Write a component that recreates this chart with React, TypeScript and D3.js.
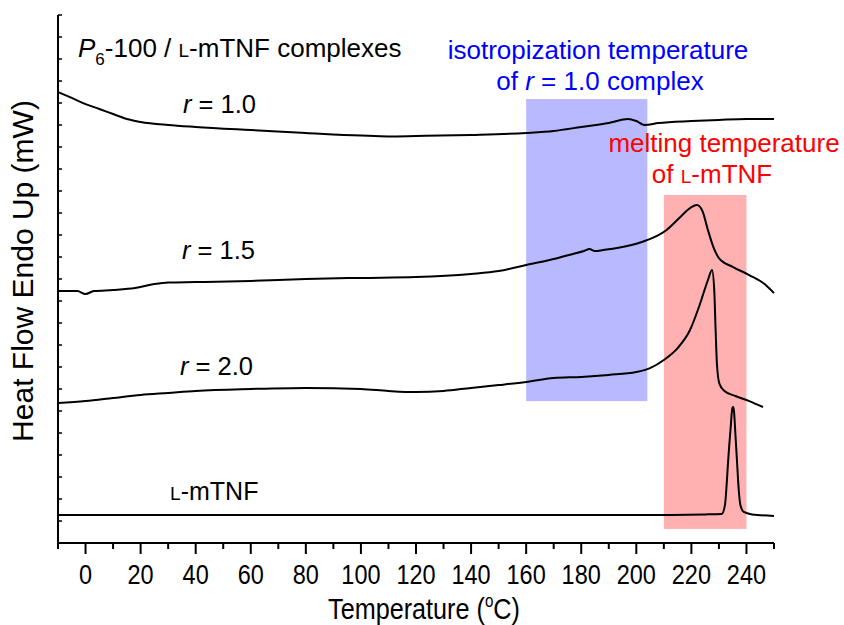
import React from "react";
import * as d3 from "d3";

// DSC heating traces, heat flow in mW (stacked, arbitrary offsets)
const r10Temp = [-10, -5, 0, 5, 10, 15, 20, 30, 40, 60, 80, 100, 110, 120, 140, 160, 170, 180, 190, 197, 200, 203, 208, 220, 230, 240, 250];
const r10Flow = [20.5, 20.23, 19.95, 19.73, 19.5, 19.27, 19.14, 19.0, 18.91, 18.77, 18.64, 18.52, 18.48, 18.5, 18.55, 18.64, 18.73, 18.91, 19.09, 19.27, 19.18, 19.0, 19.09, 19.18, 19.23, 19.27, 19.27];

const r15Temp = [-10, -3, 0, 3, 10, 18, 25, 30, 40, 60, 80, 100, 120, 140, 150, 160, 170, 177, 181, 183, 185, 188, 193, 202, 211, 216, 220, 222, 224, 226, 228, 230, 235, 241, 247, 250];
const r15Flow = [11.45, 11.45, 11.32, 11.45, 11.5, 11.59, 11.77, 11.84, 11.86, 11.91, 12.0, 12.05, 12.09, 12.23, 12.36, 12.64, 12.91, 13.14, 13.27, 13.36, 13.27, 13.32, 13.41, 13.68, 14.23, 14.82, 15.27, 15.36, 15.09, 14.23, 13.45, 12.95, 12.55, 12.18, 11.73, 11.36];

const r20Temp = [-10, 0, 10, 20, 30, 40, 60, 80, 100, 110, 120, 130, 140, 150, 160, 170, 180, 190, 200, 205, 210, 215, 219.5, 223, 226, 227.5, 228.3, 228.8, 229.3, 230.2, 232, 236, 241, 246];
const r20Flow = [6.36, 6.45, 6.59, 6.73, 6.82, 6.91, 7.0, 7.05, 7.0, 6.91, 6.86, 6.91, 7.05, 7.18, 7.32, 7.5, 7.55, 7.64, 7.77, 7.95, 8.32, 8.86, 9.68, 10.82, 11.95, 12.41, 11.5, 9.68, 8.09, 7.23, 6.91, 6.68, 6.45, 6.18];

const lmtnfTemp = [-10, 100, 200, 225, 231, 232.2, 232.8, 233.3, 234.2, 234.9, 235.2, 235.5, 236, 236.6, 237.2, 237.8, 239, 242, 250];
const lmtnfFlow = [1.27, 1.27, 1.27, 1.3, 1.32, 1.73, 2.64, 3.64, 5.14, 6.14, 6.18, 5.95, 4.91, 3.64, 2.41, 1.73, 1.41, 1.3, 1.23];

// Shaded temperature windows: [T start, T end, flow bottom, flow top]
const isoBand = [160, 204, 6.45, 20.18];
const meltBand = [210, 240, 0.64, 15.82];

const xTicks = [0, 20, 40, 60, 80, 100, 120, 140, 160, 180, 200, 220, 240];
const xMinorTicks = [-10, 10, 30, 50, 70, 90, 110, 130, 150, 170, 190, 210, 230, 250];

const curveLabels = [
  { text: "1.0", t: 35.4, f: 19.55 },
  { text: "1.5", t: 35, f: 12.91 },
  { text: "2.0", t: 34.3, f: 7.64 },
];

const FONT = "'Liberation Sans', Arial, Helvetica, sans-serif";

export default function App() {
  const width = 844;
  const height = 625;
  const x = d3.scaleLinear().domain([-10, 250]).range([58, 774]);
  const y = d3.scaleLinear().domain([0, 24]).range([543, 15]);

  const line = d3
    .line<[number, number]>()
    .x((d) => x(d[0]))
    .y((d) => y(d[1]))
    .curve(d3.curveMonotoneX);

  const series = [
    [r10Temp, r10Flow],
    [r15Temp, r15Flow],
    [r20Temp, r20Flow],
    [lmtnfTemp, lmtnfFlow],
  ].map(([t, f]) => t.map((v, i) => [v, f[i]] as [number, number]));

  const yTicks = d3.range(1, 25);
  const band = (b: number[], fill: string) => (
    <rect
      x={x(b[0])}
      y={y(b[3])}
      width={x(b[1]) - x(b[0])}
      height={y(b[2]) - y(b[3])}
      fill={fill}
    />
  );

  return (
    <svg
      width={width}
      height={height}
      style={{ position: "absolute", left: 0, top: 0, background: "#fff" }}
      fontFamily={FONT}
    >
      {band(isoBand, "#b9b9ff")}
      {band(meltBand, "#ffb1b1")}

      {series.map((s, i) => (
        <path key={i} d={line(s) || ""} fill="none" stroke="#000" strokeWidth={2} strokeLinejoin="round" />
      ))}

      {/* axes */}
      <line x1={x(-10)} x2={x(250)} y1={y(0)} y2={y(0)} stroke="#000" strokeWidth={2} />
      <line x1={x(-10)} x2={x(-10)} y1={y(0)} y2={y(24)} stroke="#000" strokeWidth={2} />
      {yTicks.map((v) => (
        <line key={v} x1={x(-10)} x2={x(-10) + 4} y1={y(v)} y2={y(v)} stroke="#000" strokeWidth={1.5} />
      ))}
      {xTicks.map((v) => (
        <g key={v} transform={`translate(${x(v)},${y(0)})`}>
          <line y1={0} y2={11} stroke="#000" strokeWidth={2} />
          <text y={41} textAnchor="middle" fontSize={28} transform="scale(0.84,1)">
            {v}
          </text>
        </g>
      ))}
      {xMinorTicks.map((v) => (
        <line key={v} x1={x(v)} x2={x(v)} y1={y(0)} y2={y(0) + 6} stroke="#000" strokeWidth={2} />
      ))}

      <g transform="translate(424,619)">
        <text textAnchor="middle" fontSize={30} transform="scale(0.84,1)">
          Temperature (<tspan fontSize={18} dy={-12}>o</tspan>
          <tspan dy={12}>C)</tspan>
        </text>
      </g>
      <text transform="translate(33,271) rotate(-90)" textAnchor="middle" fontSize={30}>
        Heat Flow Endo Up (mW)
      </text>

      {/* title */}
      <text x={78} y={57} fontSize={26}>
        <tspan fontStyle="italic">P</tspan>
        <tspan fontSize={17} dy={8}>6</tspan>
        <tspan dy={-8}>-100 / </tspan>
        <tspan fontSize={19}>L</tspan>
        <tspan>-mTNF complexes</tspan>
      </text>

      {curveLabels.map((c) => (
        <text key={c.text} x={x(c.t)} y={y(c.f)} fontSize={25.5}>
          <tspan fontStyle="italic">r</tspan> = {c.text}
        </text>
      ))}
      <text x={x(30.7)} y={y(1.95)} fontSize={25}>
        <tspan fontSize={19}>L</tspan>-mTNF
      </text>

      <g fill="#0000ff" fontSize={26} textAnchor="middle">
        <text x={598} y={59}>isotropization temperature</text>
        <text x={600} y={90}>
          of <tspan fontStyle="italic">r</tspan> = 1.0 complex
        </text>
      </g>
      <g fill="#ff0000" fontSize={26} textAnchor="middle">
        <text x={724} y={152}>melting temperature</text>
        <text x={712} y={183}>
          of <tspan fontSize={19}>L</tspan>-mTNF
        </text>
      </g>
    </svg>
  );
}
